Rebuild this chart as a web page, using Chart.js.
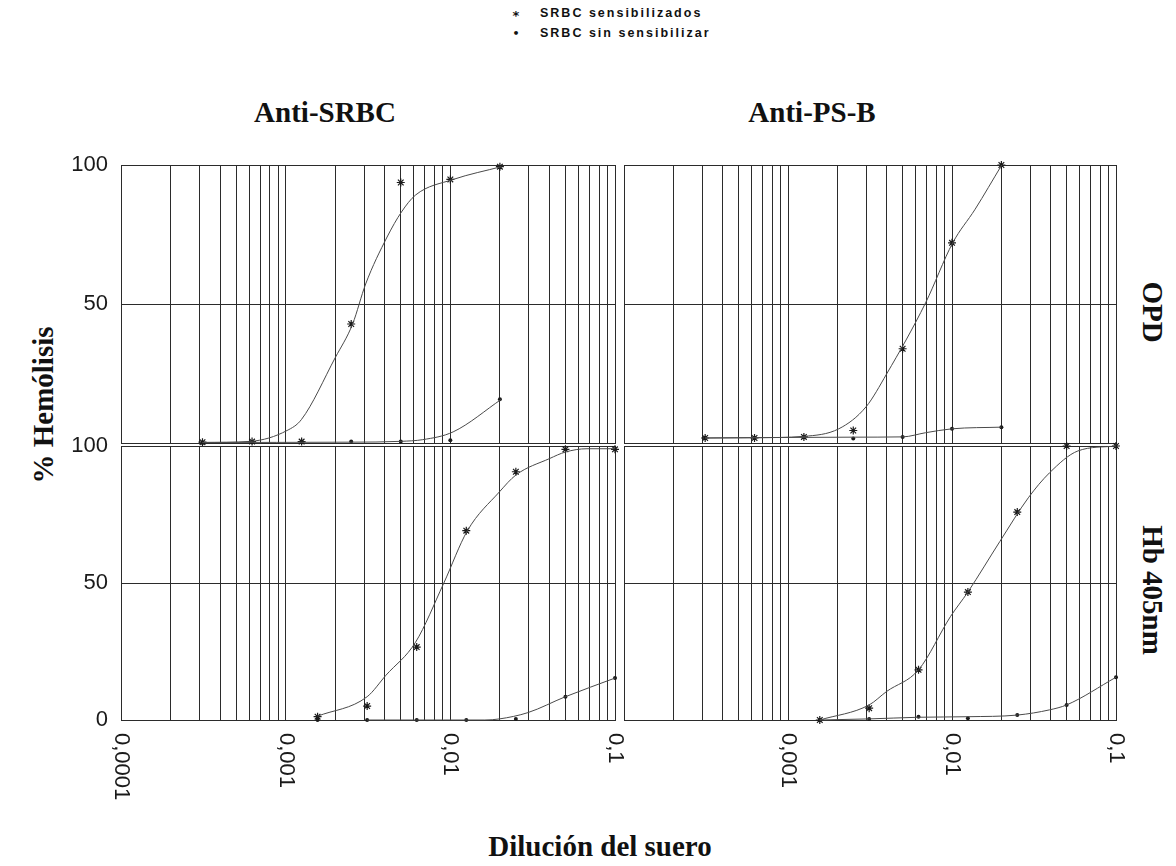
<!DOCTYPE html>
<html>
<head>
<meta charset="utf-8">
<title>% Hemólisis</title>
<script src="https://cdn.jsdelivr.net/npm/chart.js@4.4.1/dist/chart.umd.min.js"></script>
<style>
body { margin: 0; background: #fff; }
#page { position: relative; width: 1176px; height: 866px; overflow: hidden; color: #111; }
#page canvas { position: absolute; }
.lbl { position: absolute; white-space: nowrap; font-family: "Liberation Serif", "Times New Roman", serif; font-weight: bold; font-size: 29px; transform: translate(-50%, -50%); }
.cw { transform: translate(-50%, -50%) rotate(90deg); }
.ccw { transform: translate(-50%, -50%) rotate(-90deg); }
.leg { position: absolute; white-space: nowrap; font-family: "Liberation Sans", Arial, sans-serif; font-weight: bold; font-size: 12.5px; letter-spacing: 2px; transform: translateY(-50%); }
.mark { position: absolute; transform: translate(-50%, -50%); font-family: "DejaVu Sans", sans-serif; font-weight: bold; }
</style>
</head>
<body>
<div id="page">
  <span class="mark" style="left:516px; top:15px; font-size:13px;">*</span>
  <span class="leg" style="left:540px; top:13px;">SRBC sensibilizados</span>
  <span class="mark" style="left:516px; top:33px; font-size:11px;">•</span>
  <span class="leg" style="left:540px; top:33px;">SRBC sin sensibilizar</span>

  <span class="lbl" style="left:325px; top:112px;">Anti-SRBC</span>
  <span class="lbl" style="left:812px; top:112px;">Anti-PS-B</span>
  <span class="lbl cw" style="left:1152px; top:312px;">OPD</span>
  <span class="lbl cw" style="left:1152px; top:590px;">Hb 405nm</span>
  <span class="lbl ccw" style="left:43px; top:405px;">% Hemólisis</span>
  <span class="lbl" style="left:600px; top:846px;">Dilución del suero</span>

  <canvas id="opd-srbc"></canvas>
  <canvas id="opd-psb"></canvas>
  <canvas id="hb-srbc"></canvas>
  <canvas id="hb-psb"></canvas>
</div>

<script>
//dilutions
const dilOpd = [0.0003125, 0.000625, 0.00125, 0.0025, 0.005, 0.01, 0.02];
const dilHb = [0.0015625, 0.003125, 0.00625, 0.0125, 0.025, 0.05, 0.1];

//OPD, anti-SRBC
const opdSrbcSens = [0.3, 0.5, 0.5, 42.8, 93.7, 94.8, 99.4];
const opdSrbcSin = [0, 0.3, 0.5, 0.5, 0.5, 1, 15.7];
const opdSrbcSensFitX = [0.0003125, 0.000613, 0.00102, 0.001245, 0.002, 0.00255, 0.00306, 0.00413, 0.00505, 0.00615, 0.0104, 0.0204];
const opdSrbcSensFitY = [0.2, 0.6, 4.5, 8.4, 30.7, 42.8, 57.2, 74.1, 83.1, 89.2, 94.8, 99.4];
const opdSrbcSinFitX = [0.0003125, 0.0025, 0.005, 0.0068, 0.0104, 0.0204];
const opdSrbcSinFitY = [0.2, 0.3, 0.6, 1.2, 4, 15.7];

//OPD, anti-PS-B
const opdPsbSens = [1.8, 1.8, 2.2, 4.5, 33.9, 72, 100];
const opdPsbSin = [1.8, 1.8, 2.2, 1.6, 2.2, 5.1, 5.7];
const opdPsbSensFitX = [0.0003125, 0.000625, 0.00125, 0.00204, 0.00299, 0.00399, 0.0069, 0.0101, 0.01384, 0.0201];
const opdPsbSensFitY = [1.8, 1.9, 2.4, 5.1, 13, 24.8, 50.4, 72, 84.1, 100];
const opdPsbSinFitX = [0.0003125, 0.0025, 0.005, 0.0069, 0.01, 0.02];
const opdPsbSinFitY = [1.8, 2.1, 2.2, 3.7, 5.1, 5.7];

//Hb 405nm, anti-SRBC
const hbSrbcSens = [1.2, 5.1, 26.6, 69.1, 90.6, 98.8, 98.8];
const hbSrbcSin = [0, 0, 0, 0, 0.4, 8.5, 15.3];
const hbSrbcSensFitX = [0.0015625, 0.003125, 0.00406, 0.00615, 0.0091, 0.0127, 0.0199, 0.025, 0.04, 0.05, 0.0676, 0.1];
const hbSrbcSensFitY = [1.4, 8.5, 16.3, 28.4, 49.8, 69.1, 83.3, 89.4, 95.4, 97.8, 99, 99];
const hbSrbcSinFitX = [0.003125, 0.0091, 0.0162, 0.0199, 0.0296, 0.05, 0.1];
const hbSrbcSinFitY = [0, 0, 0, 0.4, 2.7, 8.5, 15.3];

//Hb 405nm, anti-PS-B
const hbPsbSens = [0, 4.3, 18.3, 46.7, 75.9, 100, 100];
const hbPsbSin = [0, 0.4, 1.2, 0.6, 1.8, 5.5, 15.6];
const hbPsbSensFitX = [0.0015625, 0.003125, 0.00399, 0.00625, 0.0098, 0.0125, 0.0196, 0.0292, 0.0393, 0.0586, 0.1];
const hbPsbSensFitY = [0, 5.5, 10.4, 18.3, 37.8, 46.7, 65.2, 81.1, 90.2, 98.2, 100];
const hbPsbSinFitX = [0.0015625, 0.003125, 0.00625, 0.0125, 0.025, 0.0393, 0.05, 0.1];
const hbPsbSinFitY = [0, 0.4, 1.0, 1.2, 1.8, 3.7, 5.5, 15.6];

//axis ticks
const yTicks = [0, 50, 100];
const yLabelsTop = [50, 100];
const yLabelsBottom = [0, 50, 100];
const xLabelValuesL = [0.0001, 0.001, 0.01, 0.1];
const xLabelsL = ["0,0001", "0,001", "0,01", "0,1"];
const xLabelValuesR = [0.001, 0.01, 0.1];
const xLabelsR = ["0,001", "0,01", "0,1"];

// log grid: 1..9 in every decade from 0.0001 to 0.1
const gridTicks = [];
[0.0001, 0.001, 0.01].forEach(d => {
  for (let k = 1; k < 10; k++) gridTicks.push(+(d * k).toPrecision(3));
});
gridTicks.push(0.1);

const INK = "#1a1a1a";
const GRID = "#2b2b2b";
const TICK_FONT = "22px 'Liberation Sans'";

function pts(xs, ys) {
  return xs.map((x, i) => ({ x: x, y: ys[i] }));
}

// percent labels on the left, rotated dilution labels under the bottom row
const axisLabelPlugin = {
  id: "axisLabels",
  afterDraw(chart, args, opts) {
    const ctx = chart.ctx;
    const area = chart.chartArea;
    ctx.save();
    ctx.font = TICK_FONT;
    ctx.fillStyle = INK;
    if (opts.yValues) {
      const sy = chart.scales.y;
      ctx.textAlign = "right";
      ctx.textBaseline = "middle";
      opts.yValues.forEach(v => ctx.fillText(String(v), area.left - 13, sy.getPixelForValue(v)));
    }
    if (opts.xValues) {
      const sx = chart.scales.x;
      ctx.textAlign = "left";
      ctx.textBaseline = "middle";
      opts.xValues.forEach((v, i) => {
        ctx.save();
        ctx.translate(sx.getPixelForValue(v), area.bottom + 13);
        ctx.rotate(Math.PI / 2);
        ctx.fillText(opts.xLabels[i], 0, 0);
        ctx.restore();
      });
    }
    ctx.restore();
  }
};

function panel(id, p) {
  const pad = { top: 24, right: 10, bottom: p.xValues ? 110 : 24, left: p.yValues ? 70 : 10 };
  const cv = document.getElementById(id);
  cv.width = pad.left + p.w + pad.right;
  cv.height = pad.top + p.h + pad.bottom;
  cv.style.left = (p.x - pad.left) + "px";
  cv.style.top = (p.y - pad.top) + "px";

  new Chart(cv, {
    type: "line",
    data: {
      datasets: [
        {
          data: pts(p.sensFitX, p.sensFitY),
          borderColor: "#4a4a4a", borderWidth: 1,
          cubicInterpolationMode: "monotone", pointRadius: 0, clip: false
        },
        {
          data: pts(p.sinFitX, p.sinFitY),
          borderColor: "#4a4a4a", borderWidth: 1,
          cubicInterpolationMode: "monotone", pointRadius: 0, clip: false
        },
        {
          type: "scatter", label: "SRBC sensibilizados",
          data: pts(p.dil, p.sens),
          pointStyle: "star", pointRadius: 4, borderColor: INK, borderWidth: 1.2,
          backgroundColor: INK, clip: false
        },
        {
          type: "scatter", label: "SRBC sin sensibilizar",
          data: pts(p.dil, p.sin),
          pointStyle: "circle", pointRadius: 2, borderColor: INK, borderWidth: 0,
          backgroundColor: INK, clip: false
        }
      ]
    },
    options: {
      responsive: false,
      animation: false,
      events: [],
      layout: { padding: pad },
      plugins: {
        legend: { display: false },
        tooltip: { enabled: false },
        axisLabels: { yValues: p.yValues, xValues: p.xValues, xLabels: p.xLabels }
      },
      scales: {
        x: {
          type: "logarithmic", min: 0.0001, max: 0.1,
          afterBuildTicks: s => { s.ticks = gridTicks.map(v => ({ value: v })); },
          afterFit: s => { s.height = 0; },
          ticks: { display: false },
          grid: { color: GRID, lineWidth: 1, drawTicks: false },
          border: { color: GRID }
        },
        y: {
          min: 0, max: 100,
          afterBuildTicks: s => { s.ticks = yTicks.map(v => ({ value: v })); },
          afterFit: s => { s.width = 0; },
          ticks: { display: false },
          grid: { color: GRID, lineWidth: 1, drawTicks: false },
          border: { color: GRID }
        }
      }
    },
    plugins: [axisLabelPlugin]
  });
}

//top left
panel("opd-srbc", {
  x: 121, y: 165, w: 494, h: 278, yValues: yLabelsTop,
  dil: dilOpd, sens: opdSrbcSens, sin: opdSrbcSin,
  sensFitX: opdSrbcSensFitX, sensFitY: opdSrbcSensFitY,
  sinFitX: opdSrbcSinFitX, sinFitY: opdSrbcSinFitY
});

//top right
panel("opd-psb", {
  x: 624, y: 165, w: 492, h: 278,
  dil: dilOpd, sens: opdPsbSens, sin: opdPsbSin,
  sensFitX: opdPsbSensFitX, sensFitY: opdPsbSensFitY,
  sinFitX: opdPsbSinFitX, sinFitY: opdPsbSinFitY
});

//bottom left
panel("hb-srbc", {
  x: 121, y: 446, w: 494, h: 274, yValues: yLabelsBottom,
  xValues: xLabelValuesL, xLabels: xLabelsL,
  dil: dilHb, sens: hbSrbcSens, sin: hbSrbcSin,
  sensFitX: hbSrbcSensFitX, sensFitY: hbSrbcSensFitY,
  sinFitX: hbSrbcSinFitX, sinFitY: hbSrbcSinFitY
});

//bottom right
panel("hb-psb", {
  x: 624, y: 446, w: 492, h: 274,
  xValues: xLabelValuesR, xLabels: xLabelsR,
  dil: dilHb, sens: hbPsbSens, sin: hbPsbSin,
  sensFitX: hbPsbSensFitX, sensFitY: hbPsbSensFitY,
  sinFitX: hbPsbSinFitX, sinFitY: hbPsbSinFitY
});
</script>
</body>
</html>
